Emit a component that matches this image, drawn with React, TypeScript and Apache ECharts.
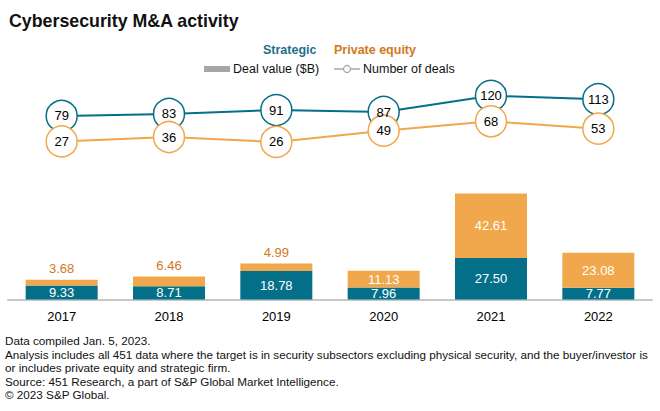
import React, { useEffect, useRef } from "react";
import * as echarts from "echarts";

const years = ["2017", "2018", "2019", "2020", "2021", "2022"];
const strategicDeals = [79, 83, 91, 87, 120, 113];
const peDeals = [27, 36, 26, 49, 68, 53];
const strategicValue = [9.33, 8.71, 18.78, 7.96, 27.5, 7.77];
const peValue = [3.68, 6.46, 4.99, 11.13, 42.61, 23.08];
const footnotes = [
  "Data compiled Jan. 5, 2023.",
  "Analysis includes all 451 data where the target is in security subsectors excluding physical security, and the buyer/investor is",
  "or includes private equity and strategic firm.",
  "Source: 451 Research, a part of S&P Global Market Intelligence.",
  "© 2023 S&P Global.",
];

const TEAL = "#046f89";
const ORANGE = "#f1a74c";
const ORANGE_TXT = "#d2781c";
const FONT = "'Liberation Sans', Arial, sans-serif";

export default function App() {
  const ref = useRef<HTMLDivElement>(null);
  useEffect(() => {
    if (!ref.current) return;
    const chart = echarts.init(ref.current, null, { renderer: "svg" });
    const lineSeries = (name: string, data: number[], color: string) => ({
      name,
      type: "line",
      xAxisIndex: 0,
      yAxisIndex: 0,
      data,
      symbol: "circle",
      symbolSize: 31,
      lineStyle: { color, width: 2 },
      itemStyle: { color: "#fff", borderColor: color, borderWidth: 1.5 },
      label: {
        show: true,
        position: "inside",
        color: "#000",
        fontSize: 13,
        fontFamily: FONT,
      },
      z: 3,
    });
    const option: any = {
      animation: false,
      textStyle: { fontFamily: FONT },
      title: {
        text: "Cybersecurity M&A activity",
        left: 4,
        top: 7,
        textStyle: { fontSize: 17.8, fontWeight: "bold", color: "#111", fontFamily: FONT },
      },
      grid: [
        { left: 8, right: 8, top: 86, height: 68.7 },
        { left: 8, right: 8, top: 178.5, height: 121 },
      ],
      xAxis: [
        { type: "category", gridIndex: 0, data: years, show: false },
        {
          type: "category",
          gridIndex: 1,
          data: years,
          axisLine: { show: true, lineStyle: { color: "#c8c8c8", width: 2 } },
          axisTick: { show: false },
          axisLabel: { color: "#000", fontSize: 13, margin: 10, fontFamily: FONT },
        },
      ],
      yAxis: [
        { type: "value", gridIndex: 0, min: 0, max: 140, show: false },
        { type: "value", gridIndex: 1, min: 0, max: 80, show: false },
      ],
      series: [
        {
          name: "Strategic value",
          type: "bar",
          xAxisIndex: 1,
          yAxisIndex: 1,
          stack: "v",
          barWidth: 72,
          data: strategicValue,
          itemStyle: { color: TEAL },
          label: {
            show: true,
            position: "inside",
            color: "#fff",
            fontSize: 13,
            formatter: (p: any) => p.value.toFixed(2),
          },
        },
        {
          name: "PE value",
          type: "bar",
          xAxisIndex: 1,
          yAxisIndex: 1,
          stack: "v",
          barWidth: 72,
          data: peValue.map((v) =>
            v < 8
              ? { value: v, label: { position: "top", color: ORANGE_TXT, distance: 5 } }
              : { value: v }
          ),
          itemStyle: { color: ORANGE },
          label: {
            show: true,
            position: "inside",
            color: "#fff",
            fontSize: 13,
            formatter: (p: any) => p.value.toFixed(2),
          },
        },
        lineSeries("Strategic deals", strategicDeals, TEAL),
        lineSeries("PE deals", peDeals, ORANGE),
      ],
      graphic: [
        {
          type: "text",
          left: 263,
          top: 43,
          style: { text: "Strategic", fill: "#1f6f8b", font: `bold 12.5px ${FONT}` },
        },
        {
          type: "text",
          left: 334,
          top: 43,
          style: { text: "Private equity", fill: "#d2781c", font: `bold 12.5px ${FONT}` },
        },
        {
          type: "rect",
          shape: { x: 204, y: 66, width: 26, height: 6 },
          style: { fill: "#a6a6a6" },
        },
        {
          type: "text",
          left: 233,
          top: 62,
          style: { text: "Deal value ($B)", fill: "#111", font: `12.5px ${FONT}` },
        },
        {
          type: "line",
          shape: { x1: 334, y1: 69, x2: 360, y2: 69 },
          style: { stroke: "#a6a6a6", lineWidth: 1.5 },
        },
        {
          type: "circle",
          shape: { cx: 347, cy: 69, r: 3.5 },
          style: { fill: "#fff", stroke: "#a6a6a6", lineWidth: 1.2 },
        },
        {
          type: "text",
          left: 363,
          top: 62,
          style: { text: "Number of deals", fill: "#111", font: `12.5px ${FONT}` },
        },
        ...footnotes.map((t, i) => ({
          type: "text",
          left: 5,
          top: 334.5 + i * 13.6,
          style: { text: t, fill: "#111", font: `11.7px ${FONT}` },
        })),
      ],
    };
    chart.setOption(option);
    return () => chart.dispose();
  }, []);
  return (
    <div
      ref={ref}
      style={{ position: "fixed", left: 0, top: 0, width: 660, height: 411, background: "#fff" }}
    />
  );
}
